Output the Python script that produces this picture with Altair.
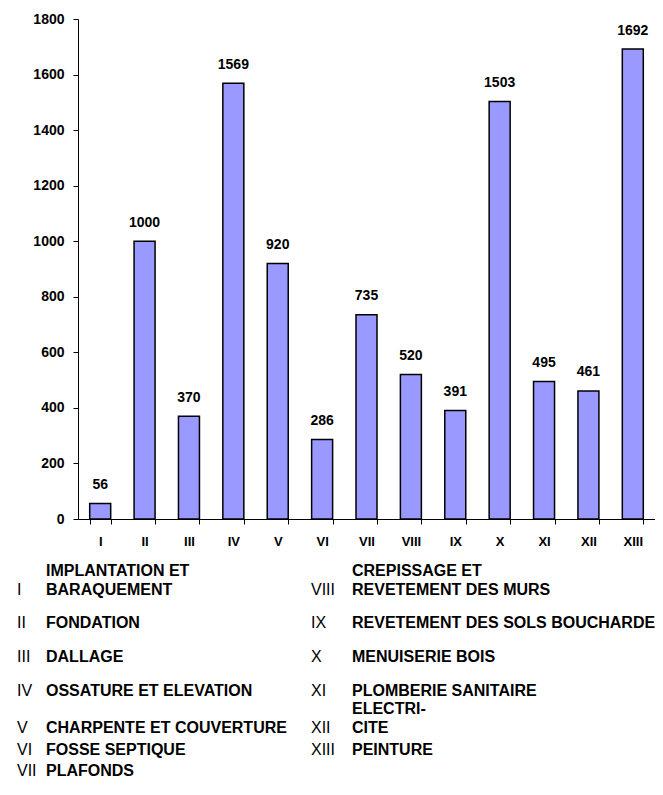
import altair as alt
import pandas as pd

# ---- chart data ----
CATEGORIES = ["I", "II", "III", "IV", "V", "VI", "VII", "VIII", "IX", "X", "XI", "XII", "XIII"]
VALUES = [56, 1000, 370, 1569, 920, 286, 735, 520, 391, 1503, 495, 461, 1692]
Y_TICKS = [0, 200, 400, 600, 800, 1000, 1200, 1400, 1600, 1800]

# ---- legend (key) text ----
LEGEND_NUMERALS = ["I", "II", "III", "IV", "V", "VI", "VII",
                   "VIII", "IX", "X", "XI", "XII", "XIII"]
LEGEND_NAMES = [
    "IMPLANTATION ET\nBARAQUEMENT",
    "FONDATION",
    "DALLAGE",
    "OSSATURE ET ELEVATION",
    "CHARPENTE ET COUVERTURE",
    "FOSSE SEPTIQUE",
    "PLAFONDS",
    "CREPISSAGE ET\nREVETEMENT DES MURS",
    "REVETEMENT DES SOLS BOUCHARDE",
    "MENUISERIE BOIS",
    "PLOMBERIE SANITAIRE",
    "ELECTRI-\nCITE",
    "PEINTURE",
]
LEGEND_COLUMN = [0, 0, 0, 0, 0, 0, 0, 1, 1, 1, 1, 1, 1]
LEGEND_ROW = [0, 1, 2, 3, 4, 5, 6, 0, 1, 2, 3, 4, 5]

# ---- layout (pixels relative to the plot area) ----
ROW_POS = [576, 609, 643, 677, 714, 736, 757]   # text baselines
LINE_GAP = 19
NUMERAL_X = [-61, 233]
NAME_X = [-32, 274]
FONT = "Liberation Sans"

bars_df = pd.DataFrame({"cat": CATEGORIES, "value": VALUES})
legend_df = pd.DataFrame({
    "num": LEGEND_NUMERALS,
    "name": LEGEND_NAMES,
    "col": LEGEND_COLUMN,
    "row": LEGEND_ROW,
})
legend_df["last_line"] = legend_df["name"].str.split("\n").str[-1]
legend_df["first_line"] = legend_df["name"].apply(
    lambda s: s.split("\n")[0] if "\n" in s else "")
first_df = legend_df[legend_df["first_line"] != ""]

x_scale = alt.Scale(domain=CATEGORIES, paddingInner=0.527, paddingOuter=0.2635)
y_scale = alt.Scale(domain=[0, 1800], nice=False)

bars = alt.Chart(bars_df).mark_bar(
    color="#9999FF", stroke="black", strokeWidth=1.5
).encode(
    x=alt.X("cat:N", sort=CATEGORIES, scale=x_scale,
            axis=alt.Axis(title=None, labelAngle=0, tickBand="extent",
                          labelFontSize=13, labelPadding=11, tickSize=5)),
    y=alt.Y("value:Q", scale=y_scale,
            axis=alt.Axis(title=None, values=Y_TICKS, grid=False, format="d",
                          labelFontSize=14, labelPadding=9, tickSize=5)),
)

labels = alt.Chart(bars_df).mark_text(
    baseline="alphabetic", dy=-14.5, font=FONT, fontWeight="bold",
    fontSize=14, color="black"
).encode(
    x=alt.X("cat:N", sort=CATEGORIES, scale=x_scale, axis=None),
    y=alt.Y("value:Q", scale=y_scale, axis=None),
    text=alt.Text("value:Q", format="d"),
)

row_scale = alt.Scale(domain=list(range(len(ROW_POS))), range=ROW_POS,
                      nice=False, zero=False)
num_x = alt.Scale(domain=[0, 1], range=NUMERAL_X, nice=False, zero=False)
name_x = alt.Scale(domain=[0, 1], range=NAME_X, nice=False, zero=False)

numerals = alt.Chart(legend_df).mark_text(
    align="left", baseline="alphabetic", font=FONT, fontSize=16,
    fontWeight="normal", color="black"
).encode(
    x=alt.X("col:Q", scale=num_x, axis=None),
    y=alt.Y("row:Q", scale=row_scale, axis=None),
    text="num:N",
)

names = alt.Chart(legend_df).mark_text(
    align="left", baseline="alphabetic", font=FONT, fontSize=16,
    fontWeight="bold", color="black"
).encode(
    x=alt.X("col:Q", scale=name_x, axis=None),
    y=alt.Y("row:Q", scale=row_scale, axis=None),
    text="last_line:N",
)

first_lines = alt.Chart(first_df).mark_text(
    align="left", baseline="alphabetic", font=FONT, fontSize=16,
    fontWeight="bold", color="black", dy=-LINE_GAP
).encode(
    x=alt.X("col:Q", scale=name_x, axis=None),
    y=alt.Y("row:Q", scale=row_scale, axis=None),
    text="first_line:N",
)

chart = alt.layer(bars, labels, numerals, names, first_lines).resolve_scale(
    x="independent", y="independent"
).properties(
    width=577, height=500,
    autosize=alt.AutoSizeParams(type="none"),
    padding={"left": 70, "top": 11, "right": 0, "bottom": 264},
).configure_view(
    strokeWidth=0
).configure_axis(
    labelFont=FONT, labelFontWeight="bold",
    labelColor="black", domainColor="black", tickColor="black",
    domainWidth=1, tickWidth=1,
)

chart.save("out.html", embed_options={"renderer": "svg", "actions": False})
